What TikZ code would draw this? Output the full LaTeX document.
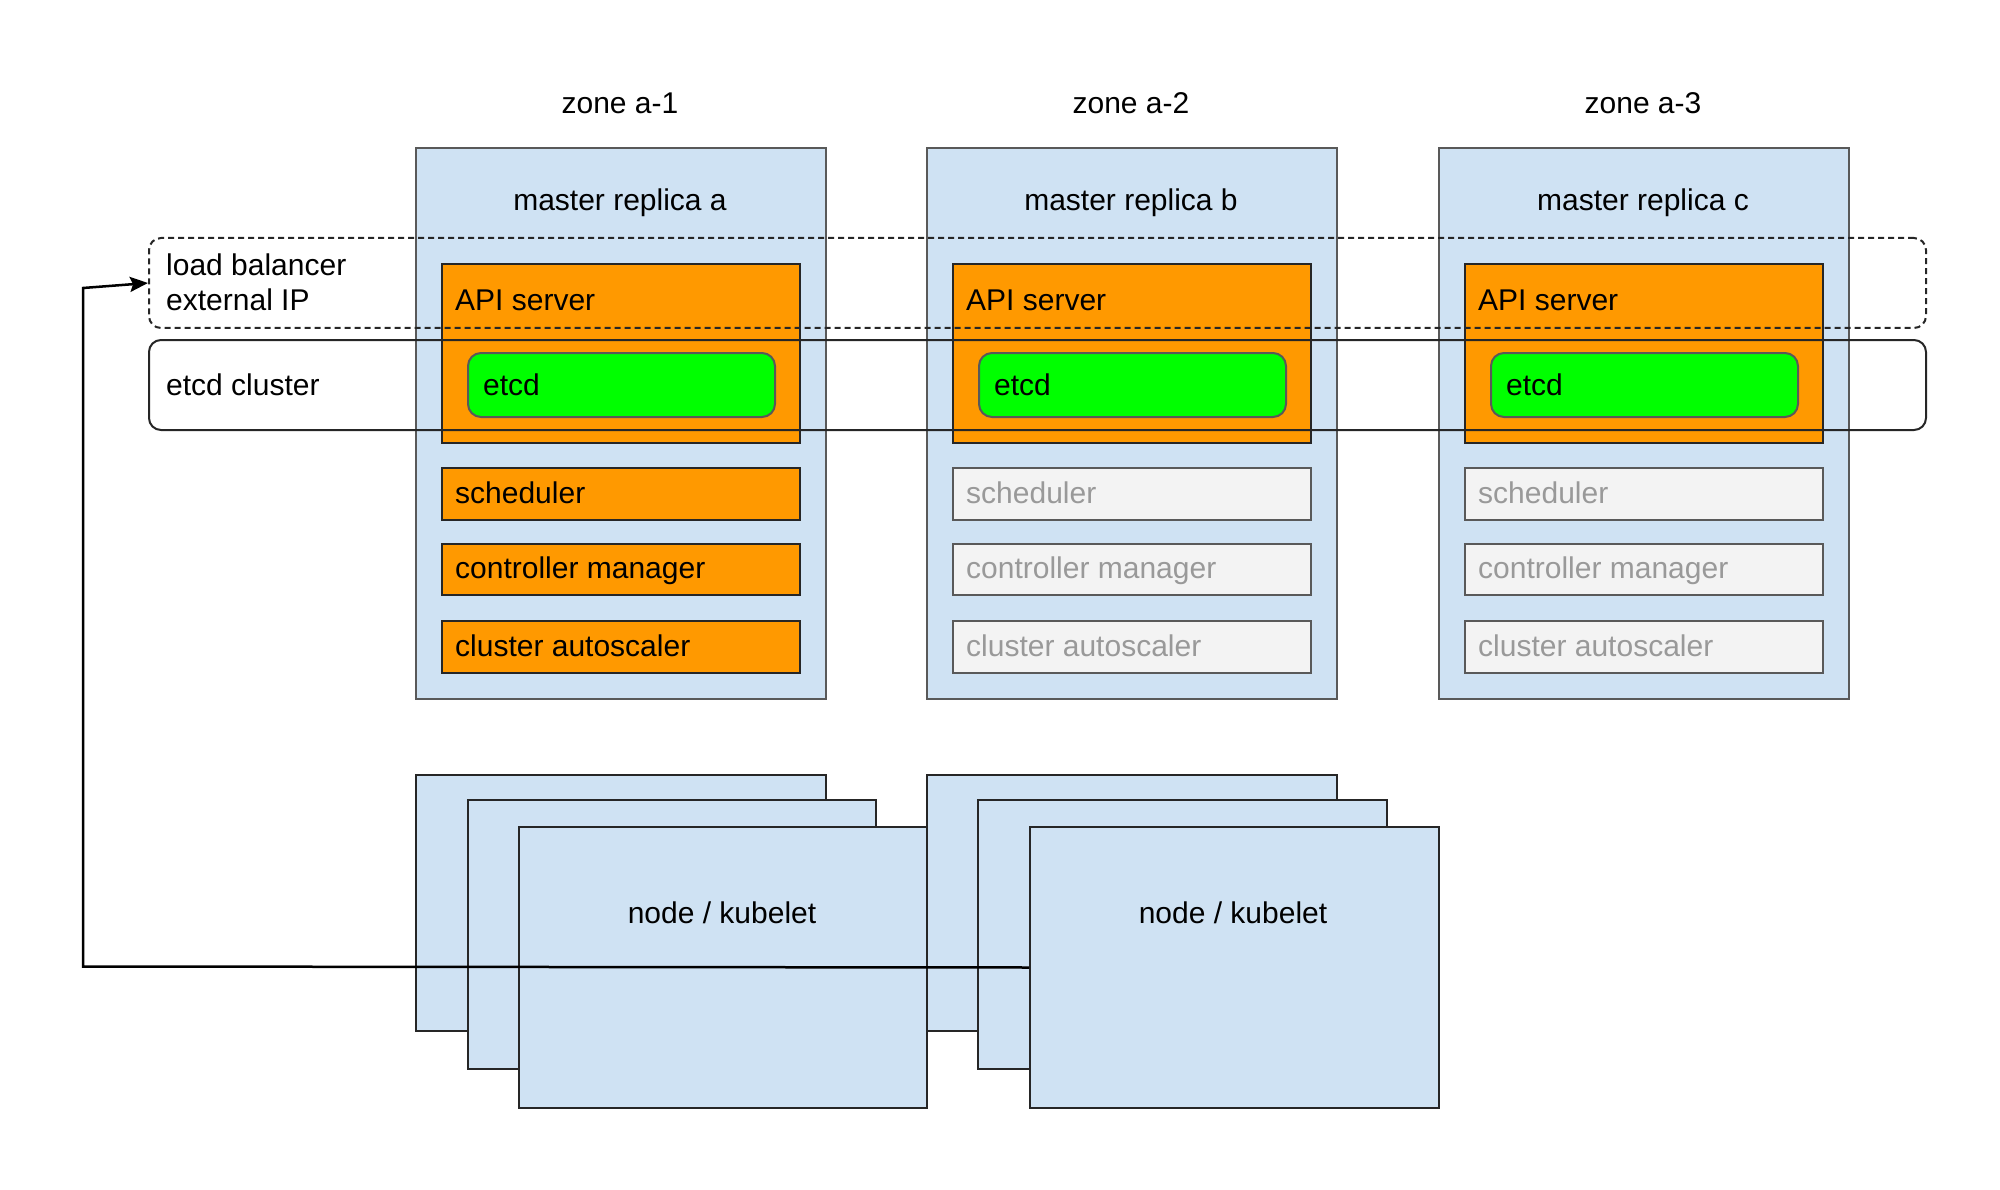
\documentclass[tikz,border=0pt]{standalone}
\usepackage{fontspec}
\setmainfont{Liberation Sans}
\usetikzlibrary{arrows.meta}

\definecolor{azzurro}{HTML}{CFE2F3}
\definecolor{arancio}{HTML}{FF9900}
\definecolor{verde}{HTML}{00FF00}
\definecolor{grigio}{HTML}{F3F3F3}
\definecolor{grigiotesto}{HTML}{999999}
\definecolor{bordo}{HTML}{595959}

\begin{document}
\begin{tikzpicture}[x=1pt,y=-1pt,
    scatola/.style={anchor=north west, inner sep=0pt, line width=2pt},
    master/.style={scatola, draw=bordo, fill=azzurro, minimum width=410pt, minimum height=551pt},
    attivo/.style={scatola, draw=black!85, fill=arancio, minimum width=358pt},
    riserva/.style={scatola, draw=bordo, fill=grigio, minimum width=358pt},
    etcdbox/.style={scatola, draw=black!65, fill=verde, rounded corners=13pt, minimum width=307pt, minimum height=64pt},
    gruppo/.style={scatola, draw=black!85, rounded corners=12pt, minimum width=1777pt, minimum height=90pt},
    nodo/.style={scatola, draw=black!85, fill=azzurro},
    testo/.style={font=\fontsize{30}{36}\selectfont, inner sep=0pt, text height=21.5pt, text depth=0pt},
    spento/.style={testo, text=grigiotesto}]
        \useasboundingbox (0,0) rectangle (2000,1190);

        %%%%%%%%%% Master %%%%%%%%%%
        \node[master] (mastera) at (415,147) {};
        \node[master] (masterb) at (926,147) {};
        \node[master] (masterc) at (1438,147) {};

        \node[attivo, minimum height=179pt] (apia) at (441,263) {};
        \node[attivo, minimum height=179pt] (apib) at (952,263) {};
        \node[attivo, minimum height=179pt] (apic) at (1464,263) {};

        \node[etcdbox] (etcda) at (467,352) {};
        \node[etcdbox] (etcdb) at (978,352) {};
        \node[etcdbox] (etcdc) at (1490,352) {};

        \node[attivo, minimum height=52pt] (scheda) at (441,467) {};
        \node[attivo, minimum height=51pt] (contra) at (441,543) {};
        \node[attivo, minimum height=52pt] (autoa) at (441,620) {};
        \node[riserva, minimum height=52pt] (schedb) at (952,467) {};
        \node[riserva, minimum height=51pt] (contrb) at (952,543) {};
        \node[riserva, minimum height=52pt] (autob) at (952,620) {};
        \node[riserva, minimum height=52pt] (schedc) at (1464,467) {};
        \node[riserva, minimum height=51pt] (contrc) at (1464,543) {};
        \node[riserva, minimum height=52pt] (autoc) at (1464,620) {};

        %%%%%%%%%% Gruppi %%%%%%%%%%
        \node[gruppo, dash pattern=on 6pt off 4pt] (lb) at (148,237) {};
        \node[gruppo] (cluster) at (148,339) {};

        %%%%%%%%%% Testi %%%%%%%%%%
        \node[testo] (zona1) at (620,103) {zone a-1};
        \node[testo] (zona2) at (1131,103) {zone a-2};
        \node[testo] (zona3) at (1643,103) {zone a-3};

        \node[testo] (titoloa) at (620,200) {master replica a};
        \node[testo] (titolob) at (1131,200) {master replica b};
        \node[testo] (titoloc) at (1643,200) {master replica c};

        \node[testo, anchor=west] (lbriga1) at (166,265) {load balancer};
        \node[testo, anchor=west] (lbriga2) at (166,300) {external IP};
        \node[testo, anchor=west] (clustertesto) at (166,385) {etcd cluster};

        \node[testo, anchor=west] (apitestoa) at (455,300) {API server};
        \node[testo, anchor=west] (apitestob) at (966,300) {API server};
        \node[testo, anchor=west] (apitestoc) at (1478,300) {API server};

        \node[testo, anchor=west] (etcdtestoa) at (483,385) {etcd};
        \node[testo, anchor=west] (etcdtestob) at (994,385) {etcd};
        \node[testo, anchor=west] (etcdtestoc) at (1506,385) {etcd};

        \node[testo, anchor=west] (schedtestoa) at (455,493) {scheduler};
        \node[testo, anchor=west] (contrtestoa) at (455,568) {controller manager};
        \node[testo, anchor=west] (autotestoa) at (455,646) {cluster autoscaler};
        \node[spento, anchor=west] (schedtestob) at (966,493) {scheduler};
        \node[spento, anchor=west] (contrtestob) at (966,568) {controller manager};
        \node[spento, anchor=west] (autotestob) at (966,646) {cluster autoscaler};
        \node[spento, anchor=west] (schedtestoc) at (1478,493) {scheduler};
        \node[spento, anchor=west] (contrtestoc) at (1478,568) {controller manager};
        \node[spento, anchor=west] (autotestoc) at (1478,646) {cluster autoscaler};

        %%%%%%%%%% Nodi %%%%%%%%%%
        \node[nodo, minimum width=410pt, minimum height=256pt] (nodoadietro) at (415,774) {};
        \node[nodo, minimum width=408pt, minimum height=269pt] (nodoamezzo) at (467,799) {};
        \node[nodo, minimum width=408pt, minimum height=281pt] (nodoadavanti) at (518,826) {};
        \node[nodo, minimum width=410pt, minimum height=256pt] (nodobdietro) at (926,774) {};
        \node[nodo, minimum width=409pt, minimum height=269pt] (nodobmezzo) at (977,799) {};
        \node[nodo, minimum width=409pt, minimum height=281pt] (nodobdavanti) at (1029,826) {};

        \node[testo] (kubeleta) at (722,913) {node / kubelet};
        \node[testo] (kubeletb) at (1233,913) {node / kubelet};

        %%%%%%%%% Frecce %%%%%%%%%
        \coordinate (bassa) at (83,966.5);
        \coordinate (alta) at (83,288);
        \draw[->,>={Stealth[length=18pt,width=15pt,inset=3pt]},line width=2.5pt] (nodobdavanti.west) -- (bassa) -- (alta) -- (lb.west);
    \end{tikzpicture}
\end{document}
